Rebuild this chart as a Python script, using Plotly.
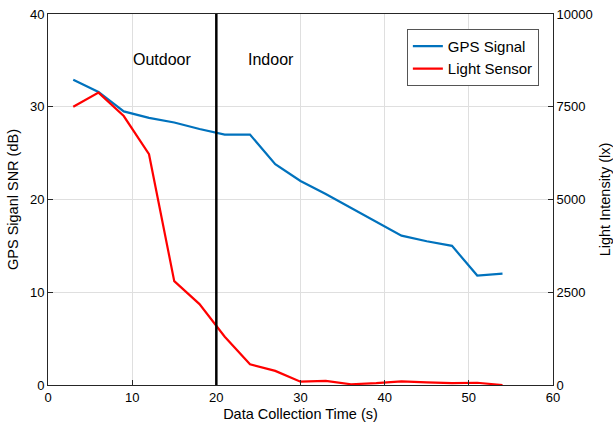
import plotly.graph_objects as go

# Sampling times (s)
time_s = [3, 6, 9, 12, 15, 18, 21, 24, 27, 30, 33, 36, 39, 42, 45, 48, 51, 54]
# GPS SNR (dB)
gps_snr = [32.9, 31.6, 29.5, 28.8, 28.3, 27.6, 27.0, 27.0, 23.8, 22.0, 20.6, 19.1, 17.6, 16.1, 15.5, 15.0, 11.8, 12.0]
# Light sensor reading (lx)
light_lx = [7500, 7880, 7250, 6220, 2800, 2180, 1300, 560, 380, 90, 110, 20, 50, 100, 70, 50, 60, 0]

boundary_time = 20
region_labels = ["Outdoor", "Indoor"]
region_label_x = [13.5, 26.5]
region_label_y = 35.1

axis_color = "#262626"
font_family = "Liberation Sans, Arial, sans-serif"

fig = go.Figure()
fig.add_trace(go.Scatter(x=time_s, y=gps_snr, mode="lines", name="GPS Signal",
                         line=dict(color="#0072BD", width=2.2)))
fig.add_trace(go.Scatter(x=time_s, y=light_lx, mode="lines", name="Light Sensor",
                         line=dict(color="#FF0000", width=2.2), yaxis="y2"))

fig.add_shape(type="line", x0=boundary_time, x1=boundary_time, y0=0, y1=1,
              xref="x", yref="paper", line=dict(color="black", width=2.5))

for txt, xv in zip(region_labels, region_label_x):
    fig.add_annotation(x=xv, y=region_label_y, text=txt, showarrow=False,
                       font=dict(size=16, color="black", family=font_family))

common = dict(showline=True, linecolor=axis_color, linewidth=1, ticks="inside",
              ticklen=5, tickcolor=axis_color, zeroline=False, automargin=False,
              tickfont=dict(size=13, color="black", family=font_family))
title_font = dict(size=14.5, color="black", family=font_family)

fig.update_layout(
    width=613, height=427,
    margin=dict(l=48, r=60, t=14, b=42, autoexpand=False),
    paper_bgcolor="white", plot_bgcolor="white",
    font=dict(family=font_family, color="black"),
    showlegend=True,
    legend=dict(x=0.972, y=0.96, xanchor="right", yanchor="top",
                bgcolor="white", bordercolor="#555555", borderwidth=1,
                font=dict(size=15, family=font_family),
                itemwidth=30, tracegroupgap=0),
    xaxis=dict(range=[0, 60], dtick=10, mirror=True, showgrid=True,
               gridcolor="#DFDFDF",
               title=dict(text="Data Collection Time (s)", standoff=5, font=title_font),
               **common),
    yaxis=dict(range=[0, 40], dtick=10, showgrid=True, gridcolor="#DFDFDF",
               title=dict(text="GPS Siganl SNR (dB)", standoff=7, font=title_font),
               **common),
    yaxis2=dict(range=[0, 10000], dtick=2500, tickformat="d", overlaying="y",
                side="right", showgrid=False,
                title=dict(text="Light Intensity (lx)", standoff=16, font=title_font),
                **common),
)

fig.write_html("out.html")
